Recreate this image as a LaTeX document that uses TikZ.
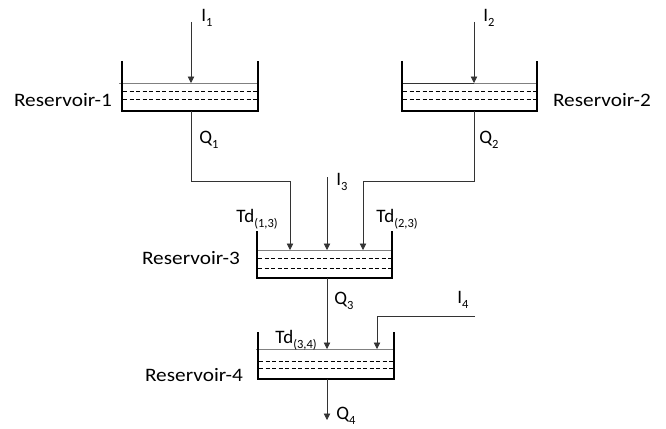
\documentclass[tikz,border=0pt]{standalone}
\usepackage{fontspec}
\setmainfont{Carlito}
\usetikzlibrary{arrows.meta}
\newcommand\lsub[1]{\raisebox{-0.5ex}{\fontsize{12.5}{12.5}\selectfont #1}}
\begin{document}
\begin{tikzpicture}[x=1pt,y=-1pt,
  wall/.style={line width=2pt,line join=miter},
  flow/.style={line width=0.8pt,draw=black!80},
  arr/.style={flow,-{Triangle[length=6.5pt,width=6.5pt]}},
  water/.style={line width=0.7pt,draw=black!50},
  wdash/.style={line width=0.8pt,dash pattern=on 4pt off 2.5pt},
  lbl/.style={font=\fontsize{19}{22}\selectfont,inner sep=0pt,text=black},
  rlbl/.style={lbl,xscale=1.12,transform shape}]
\useasboundingbox (0,0) rectangle (666,428);

% Reservoir 1
\draw[water] (119,83) -- (258,83);
\draw[wdash] (123,91) -- (257,91);
\draw[wdash] (123,99) -- (257,99);
\draw[wall] (122,61) -- (122,111) -- (258,111) -- (258,61);
% Reservoir 2
\draw[flow] (402,83) -- (474,83);
\draw[water] (474,83) -- (537,83);
\draw[wdash] (403,91) -- (536,91);
\draw[wdash] (403,99) -- (536,99);
\draw[wall] (402,61) -- (402,111) -- (537,111) -- (537,61);
% Reservoir 3
\draw[water] (257,250) -- (392,250);
\draw[wdash] (258,258) -- (391,258);
\draw[wdash] (258,268) -- (391,268);
\draw[wall] (257,231) -- (257,278) -- (392,278) -- (392,231);
% Reservoir 4
\draw[water] (256,349) -- (394,349);
\draw[wdash] (259,361) -- (393,361);
\draw[wdash] (259,368) -- (393,368);
\draw[wall] (258,332) -- (258,379) -- (394,379) -- (394,332);

% coordinates
\coordinate (i1s) at (191,22);
\coordinate (r1w) at (191,83);
\coordinate (r1b) at (191,111);
\coordinate (i2s) at (474,22);
\coordinate (r2w) at (474,83);
\coordinate (r2b) at (474,111);
\coordinate (r3a) at (290,250);
\coordinate (i3s) at (327,177);
\coordinate (r3c) at (327,250);
\coordinate (r3d) at (363,250);
\coordinate (r3b) at (327,278);
\coordinate (r4a) at (327,349);
\coordinate (r4i) at (377,349);
\coordinate (i4s) at (475,316);
\coordinate (r4b) at (327,379);
\coordinate (q4e) at (327,420);

% connectors
\draw[arr] (i1s) -- (r1w);
\draw[arr] (i2s) -- (r2w);
\draw[arr] (r1b) |- (290,181) -- (r3a);
\draw[arr] (r2b) |- (363,181) -- (r3d);
\draw[arr] (i3s) -- (r3c);
\draw[arr] (r3b) -- (r4a);
\draw[arr] (i4s) -| (r4i);
\draw[arr] (r4b) -- (q4e);

% labels
\node[lbl] (li1) at (207,18) {I\lsub{1}};
\node[lbl] (li2) at (489,18) {I\lsub{2}};
\node[lbl] (li3) at (342,182) {I\lsub{3}};
\node[lbl] (li4) at (463,300) {I\lsub{4}};
\node[lbl] (lq1) at (209,140) {Q\lsub{1}};
\node[lbl] (lq2) at (489,140) {Q\lsub{2}};
\node[lbl] (lq3) at (344,301) {Q\lsub{3}};
\node[lbl] (lq4) at (346,416) {Q\lsub{4}};
\node[lbl] (ltd13) at (257,219) {Td\lsub{(1,3)}};
\node[lbl] (ltd23) at (397,219) {Td\lsub{(2,3)}};
\node[lbl] (ltd34) at (296,340) {Td\lsub{(3,4)}};
\node[rlbl] (res1) at (63,100) {Reservoir-1};
\node[rlbl] (res2) at (602,100) {Reservoir-2};
\node[rlbl] (res3) at (191,258) {Reservoir-3};
\node[rlbl] (res4) at (194,375) {Reservoir-4};
\end{tikzpicture}
\end{document}
